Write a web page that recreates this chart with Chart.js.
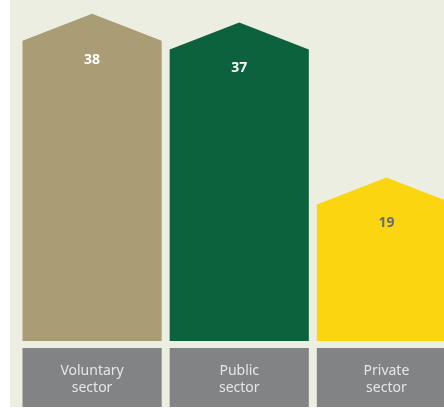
<!DOCTYPE html>
<html lang="en">
<head>
    <meta charset="UTF-8">
    <title>Sector chart</title>
    <style>
        body {
            margin: 0;
            padding: 0;
            overflow: hidden;
            background: #fff;
        }
        .panel {
            position: absolute;
            left: 10px;
            top: 0;
            width: 434px;
            height: 407px;
            background-color: #eceee2;
            overflow: hidden;
        }
        canvas {
            position: absolute;
            left: 0;
            top: 0;
        }
    </style>
</head>
<body>
    <div class="panel">
        <canvas id="myChart" width="450" height="408"></canvas>
    </div>
    <script src="https://cdn.jsdelivr.net/npm/chart.js"></script>
    <script>
        const categories = [['Voluntary', 'sector'], ['Public', 'sector'], ['Private', 'sector']];
        const values = [38, 37, 19];
        const barColors = ['#aa9c75', '#0c623d', '#fbd50f'];
        const valueColors = ['#ffffff', '#ffffff', '#6a6e6c'];

        const roof = 27;

        // draws each bar as a "house" shape plus the grey label box under it
        const housePlugin = {
            id: 'houseBars',
            beforeDatasetDraw(chart, args) {
                const ctx = chart.ctx;
                const meta = args.meta;
                meta.data.forEach((bar, i) => {
                    const p = bar.getProps(['x', 'y', 'base', 'width'], true);
                    const left = p.x - p.width / 2;
                    const right = p.x + p.width / 2;
                    ctx.save();
                    ctx.fillStyle = barColors[i];
                    ctx.beginPath();
                    ctx.moveTo(left, p.base);
                    ctx.lineTo(left, p.y + roof);
                    ctx.lineTo(p.x, p.y);
                    ctx.lineTo(right, p.y + roof);
                    ctx.lineTo(right, p.base);
                    ctx.closePath();
                    ctx.fill();

                    ctx.fillStyle = valueColors[i];
                    ctx.font = 'bold 14px "Noto Sans"';
                    ctx.textAlign = 'center';
                    ctx.textBaseline = 'middle';
                    ctx.fillText(values[i], p.x, p.y + 46);

                    // label box
                    ctx.fillStyle = '#828385';
                    ctx.fillRect(left, p.base + 7, p.width, 62);
                    ctx.fillStyle = '#e6e6e6';
                    ctx.font = '14px "Noto Sans"';
                    const lines = categories[i];
                    lines.forEach((line, j) => {
                        ctx.fillText(line, p.x, p.base + 30 + j * 17);
                    });
                    ctx.restore();
                });
                return false;
            }
        };

        new Chart(document.getElementById('myChart'), {
            type: 'bar',
            data: {
                labels: categories,
                datasets: [{
                    data: values,
                    backgroundColor: barColors,
                    barPercentage: 139 / 147,
                    categoryPercentage: 1
                }]
            },
            options: {
                responsive: false,
                animation: false,
                layout: {
                    padding: { left: 8.5, right: 0, top: 0, bottom: 67 }
                },
                plugins: {
                    legend: { display: false },
                    tooltip: { enabled: false }
                },
                scales: {
                    x: { display: false },
                    y: { display: false, min: 0, max: 39.6 }
                }
            },
            plugins: [housePlugin]
        });
    </script>
</body>
</html>
